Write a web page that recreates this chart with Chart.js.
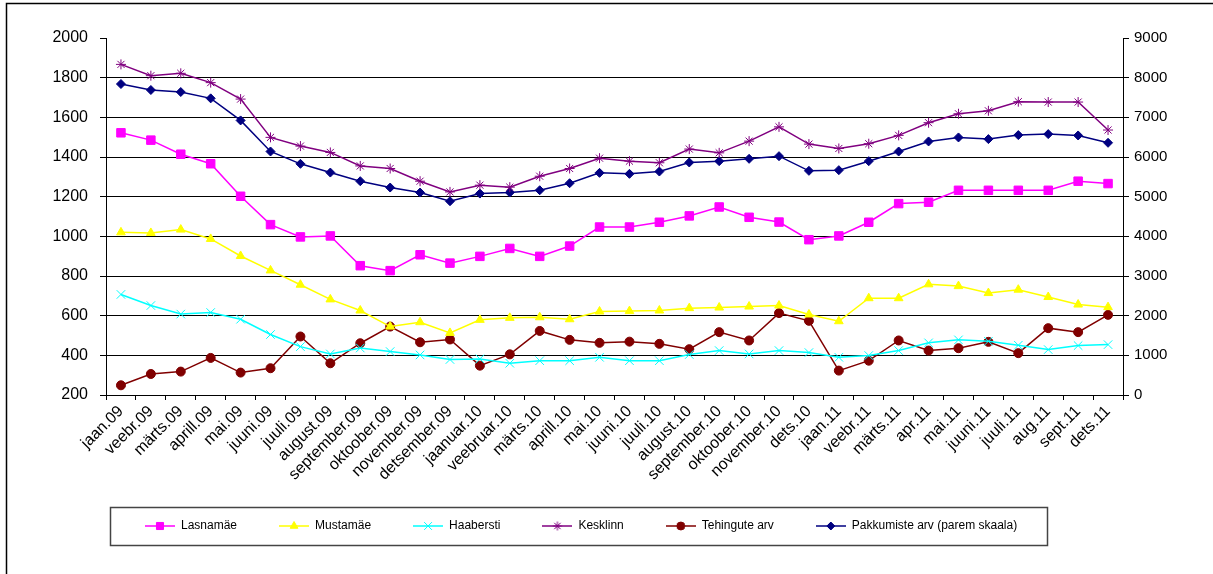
<!DOCTYPE html>
<html>
<head>
<meta charset="utf-8">
<script src="https://cdn.jsdelivr.net/npm/chart.js@4/dist/chart.umd.min.js"></script>
<style>
html,body{margin:0;padding:0;background:#fff;}
#wrap{width:1213px;height:574px;position:relative;}
</style>
</head>
<body>
<div id="wrap"><canvas id="c" width="1213" height="574"></canvas></div>
<script>
const categories = ["jaan.09","veebr.09","märts.09","aprill.09","mai.09","juuni.09","juuli.09","august.09","september.09","oktoober.09","november.09","detsember.09","jaanuar.10","veebruar.10","märts.10","aprill.10","mai.10","juuni.10","juuli.10","august.10","september.10","oktoober.10","november.10","dets.10","jaan.11","veebr.11","märts.11","apr.11","mai.11","juuni.11","juuli.11","aug.11","sept.11","dets.11"];

const lasnamae   = [1522,1485,1414,1366,1202,1059,997,1002, 852,827,907,865,899,939,899,951, 1047,1047,1071,1103,1148,1096,1072,983, 1002,1071,1165,1172,1232,1232,1232,1232,1278,1266];
const mustamae   = [1020,1017,1034,987,901,828,756,682, 626,545,567,513,579,589,592,582, 621,623,626,638,641,646,651,606, 572,688,688,758,749,714,731,694,656,643];
const haabersti  = [707,651,608,616,582,505,444,407, 437,419,402,379,382,360,373,373, 390,373,373,404,424,407,424,414, 390,399,424,463,478,471,451,429,449,454];
const kesklinn   = [1867,1810,1822,1775,1692,1499,1455,1423, 1355,1342,1278,1224,1258,1248,1303,1342, 1394,1379,1371,1440,1421,1480,1552,1465, 1443,1467,1509,1573,1618,1633,1679,1677,1677,1536];
const tehingute  = [249,306,318,387,313,335,495,360, 461,545,466,480,348,405,523,478, 463,469,458,431,517,475,613,574, 323,373,475,424,436,468,411,537,517,604];
const pakkumiste = [7840,7689,7638,7478,6922,6139,5828,5608, 5390,5230,5104,4885,5078,5104,5162,5339, 5600,5575,5634,5862,5895,5954,6021,5651, 5668,5895,6139,6392,6493,6451,6552,6577,6543,6358];

const leftTicks  = [200,400,600,800,1000,1200,1400,1600,1800,2000];
const rightTicks = [0,1000,2000,3000,4000,5000,6000,7000,8000,9000];

const seriesNames = ["Lasnamäe","Mustamäe","Haabersti","Kesklinn","Tehingute arv","Pakkumiste arv (parem skaala)"];

const FONT = "'Liberation Sans', Arial, sans-serif";
const LEGEND_START = 145;
const LEGEND_CY = 526;

function drawMarker(g, style, x, y, r) {
  g.beginPath();
  if (style === 'rect') {
    const s = r * Math.SQRT1_2;
    g.rect(x - s, y - s, 2 * s, 2 * s); g.fill(); g.stroke();
  } else if (style === 'triangle') {
    g.moveTo(x, y - r);
    g.lineTo(x + r * Math.sin(2*Math.PI/3), y - r * Math.cos(2*Math.PI/3));
    g.lineTo(x + r * Math.sin(4*Math.PI/3), y - r * Math.cos(4*Math.PI/3));
    g.closePath(); g.fill(); g.stroke();
  } else if (style === 'crossRot') {
    const s = r * Math.SQRT1_2;
    g.moveTo(x - s, y - s); g.lineTo(x + s, y + s);
    g.moveTo(x - s, y + s); g.lineTo(x + s, y - s); g.stroke();
  } else if (style === 'star') {
    const s = r * Math.SQRT1_2;
    g.moveTo(x - s, y - s); g.lineTo(x + s, y + s);
    g.moveTo(x - s, y + s); g.lineTo(x + s, y - s);
    g.moveTo(x, y - r); g.lineTo(x, y + r);
    g.moveTo(x - r, y); g.lineTo(x + r, y); g.stroke();
  } else if (style === 'circle') {
    g.arc(x, y, r, 0, Math.PI * 2); g.fill(); g.stroke();
  } else if (style === 'rectRot') {
    g.moveTo(x - r, y); g.lineTo(x, y - r); g.lineTo(x + r, y); g.lineTo(x, y + r);
    g.closePath(); g.fill(); g.stroke();
  }
}

function makeIcon(color, style, r) {
  const c = document.createElement('canvas');
  c.width = 30; c.height = 12;
  const g = c.getContext('2d');
  g.strokeStyle = color; g.fillStyle = color; g.lineWidth = 1.5;
  g.beginPath(); g.moveTo(0, 6); g.lineTo(30, 6); g.stroke();
  g.lineWidth = 1;
  drawMarker(g, style, 15, 6, r);
  return c;
}

const styles = [
  {color:'#FF00FF', point:'rect', r:6, ir:5},
  {color:'#FFFF00', point:'triangle', r:5, ir:4.5},
  {color:'#00FFFF', point:'crossRot', r:6, ir:5.5},
  {color:'#800080', point:'star', r:5, ir:4.5},
  {color:'#800000', point:'circle', r:4.5, ir:4},
  {color:'#000080', point:'rectRot', r:4.5, ir:4}
];
const icons = styles.map(s => makeIcon(s.color, s.point, s.ir));

const seriesData = [lasnamae, mustamae, haabersti, kesklinn, tehingute, pakkumiste];

const datasets = seriesData.map((d, i) => ({
  label: seriesNames[i],
  data: d,
  yAxisID: i === 5 ? 'y2' : 'y',
  borderColor: styles[i].color,
  backgroundColor: styles[i].color,
  pointBackgroundColor: styles[i].color,
  pointBorderColor: styles[i].color,
  pointStyle: styles[i].point,
  pointRadius: styles[i].r,
  pointHoverRadius: styles[i].r,
  pointBorderWidth: 1,
  borderWidth: 1.5,
  tension: 0,
  fill: false
}));

const decor = {
  id: 'decor',
  afterLayout(chart) {
    const lg = chart.legend;
    if (!lg || !lg.lineWidths) return;
    const pad = lg.options.labels.padding;
    const lw = lg.lineWidths[0];
    const startX = (lg.left + pad + lg.right - lw) / 2;
    const dx = LEGEND_START - startX;
    lg.left += dx; lg.right += dx;
    const h = lg.height;
    lg.top = LEGEND_CY - pad - 6;
    lg.bottom = lg.top + h;
    chart.$lbox = {x1: LEGEND_START - 35, x2: LEGEND_START + lw - pad + 30, cy: LEGEND_CY};
  },
  beforeDraw(chart) {
    const ctx = chart.ctx;
    ctx.save();
    ctx.fillStyle = '#fff';
    ctx.fillRect(0, 0, chart.width, chart.height);
    ctx.restore();
  },
  afterDraw(chart) {
    const ctx = chart.ctx;
    ctx.save();
    ctx.strokeStyle = '#000';
    ctx.lineWidth = 1.5;
    ctx.strokeRect(6.5, 3.5, chart.width + 50, chart.height + 50);
    const b = chart.$lbox;
    if (b) {
      ctx.strokeStyle = '#444';
      ctx.lineWidth = 1.5;
      ctx.strokeRect(Math.round(b.x1) + 0.5, b.cy - 19 + 0.5, Math.round(b.x2 - b.x1), 38);
    }
    ctx.restore();
  }
};

new Chart(document.getElementById('c'), {
  type: 'line',
  data: { labels: categories, datasets },
  options: {
    responsive: false,
    devicePixelRatio: 1,
    animation: false,
    layout: { padding: { top: 38, left: 0, right: 0, bottom: 10 } },
    plugins: {
      tooltip: { enabled: false },
      legend: {
        position: 'bottom',
        labels: {
          usePointStyle: true,
          pointStyleWidth: 30,
          padding: 42,
          color: '#000',
          font: { family: FONT, size: 12 },
          generateLabels: (chart) => {
            const base = Chart.defaults.plugins.legend.labels.generateLabels(chart);
            return base.map((l, i) => Object.assign({}, l, { pointStyle: icons[i], lineWidth: 0 }));
          }
        }
      }
    },
    scales: {
      x: {
        type: 'category',
        offset: true,
        grid: { display: true, drawOnChartArea: false, offset: true, tickLength: 5, color: '#000', tickColor: '#000' },
        border: { display: true, color: '#000', width: 1 },
        ticks: {
          autoSkip: false, minRotation: 45, maxRotation: 45, padding: 2,
          color: '#000', font: { family: FONT, size: 16 }
        },
        afterFit: (s) => { s.height = 105; }
      },
      y: {
        position: 'left',
        min: 200, max: 2000,
        afterBuildTicks: (s) => { s.ticks = leftTicks.map(v => ({ value: v })); },
        grid: {
          color: (c) => (c.tick && c.tick.value === 2000) ? 'rgba(0,0,0,0)' : '#000',
          tickColor: '#000', tickLength: 6, lineWidth: 1
        },
        border: { display: true, color: '#000', width: 1 },
        ticks: { color: '#000', padding: 12, font: { family: FONT, size: 16 }, callback: (v) => String(v) },
        afterFit: (s) => { s.width = 106; }
      },
      y2: {
        position: 'right',
        min: 0, max: 9000,
        afterBuildTicks: (s) => { s.ticks = rightTicks.map(v => ({ value: v })); },
        grid: { drawOnChartArea: false, color: '#000', tickColor: '#000', tickLength: 6 },
        border: { display: true, color: '#000', width: 1 },
        ticks: { color: '#000', padding: 5, font: { family: FONT, size: 15 }, callback: (v) => String(v) },
        afterFit: (s) => { s.width = 90; }
      }
    }
  },
  plugins: [decor]
});
</script>
</body>
</html>
